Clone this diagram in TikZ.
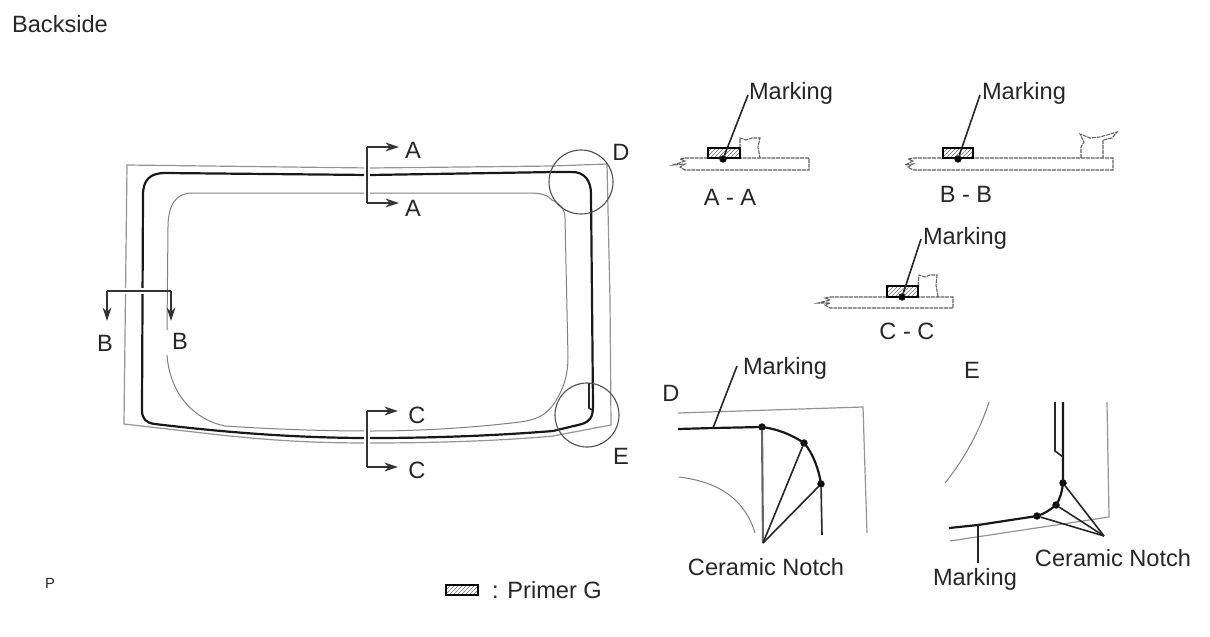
\documentclass[tikz,border=0pt]{standalone}
\usepackage{fontspec}
\setmainfont{Liberation Sans}
\usetikzlibrary{arrows.meta,patterns}
\tikzset{every picture/.style={line width=0.75pt}}
\tikzset{
  lbl/.style={font=\fontsize{17.7}{19}\selectfont,text=black!85,inner sep=0pt},
  thinln/.style={draw=black!50,line width=0.75pt},
  paleln/.style={draw=black!42,line width=0.9pt},
  heavyln/.style={draw=black!90,line width=1.65pt},
  medln/.style={draw=black!85,line width=1.2pt},
  partln/.style={draw=black!62,line width=0.8pt,dash pattern={on 3pt off 0.6pt}},
  sectln/.style={draw=black!80,line width=1.15pt,-{Stealth[length=10pt,width=6.5pt]}},
  primer/.style={draw=black,line width=1.2pt,pattern=north east lines,pattern color=black!55},
  markdot/.style={circle,fill=black,draw=black!90,inner sep=0pt,minimum size=4.8pt},
  ringln/.style={draw=black!68,line width=0.85pt}
}
\begin{document}
\begin{tikzpicture}[x=0.75pt,y=0.75pt,yscale=-1,xscale=1]
\useasboundingbox (0,0) rectangle (1210,636);

%Outer outline of the glass
\draw [paleln] (127,165) -- (370,168) -- (553,166) -- (607,164) -- (610,300) -- (611,425) -- (553,436) .. controls (500,441) and (430,443) .. (370,443) .. controls (300,443) and (260,439) .. (220,435) -- (124,424) -- cycle ;
%Inner ceramic line
\draw [thinln] (167,330) -- (168,227) .. controls (168,205) and (176,193) .. (192,193) -- (370,193) -- (530,193) .. controls (540,193) and (548,195) .. (552,200) .. controls (561,204) and (565,210) .. (565,218) -- (568,357) .. controls (568,378) and (562,392) .. (553,405) .. controls (545,416) and (535,420) .. (520,422) .. controls (470,428) and (420,431) .. (370,431) .. controls (320,431) and (270,429) .. (225,426) .. controls (195,420) and (170,395) .. (167,355) ;
%Marking line
\draw [heavyln,line join=round] (143,195) .. controls (143,180) and (150,173) .. (165,173) -- (370,175) -- (555,172) -- (572,172) .. controls (584,172) and (591,180) .. (591,194) -- (593,405) .. controls (593,418) and (590,421) .. (582,424) -- (553,431) .. controls (490,436) and (430,438) .. (370,438) .. controls (300,438) and (230,433) .. (155,424) .. controls (146,423) and (142,419) .. (142,410) -- cycle ;
\draw [medln] (589,383) -- (589,408) -- (592,410) ;

%Cuts through the lines at the section marks
\draw [white,line width=4.5pt] (367,160) -- (367,200) ;
\draw [white,line width=4.5pt] (367,425) -- (367,450) ;
\draw [white,line width=4.5pt] (115,291) -- (165,291) ;

% Text Node
\draw (60,24) node (backside) [lbl] {Backside};
% Text Node
\draw (413,150) node (lblAa) [lbl] {A};
\draw (413,208) node (lblAb) [lbl] {A};
\draw (105,343) node (lblBa) [lbl] {B};
\draw (180,341) node (lblBb) [lbl] {B};
\draw (417,415) node (lblCa) [lbl] {C};
\draw (417,470) node (lblCb) [lbl] {C};
\draw (621,152) node (lblD) [lbl] {D};
\draw (621,456) node (lblE) [lbl] {E};

%Section marks
\coordinate (cutAa) at (367,147);
\coordinate (cutAb) at (367,203);
\coordinate (cutCa) at (367,411);
\coordinate (cutCb) at (367,467);
\coordinate (cutBa) at (107,291);
\coordinate (cutBb) at (171,291);
\draw [sectln,-] (cutAa) -- (cutAb) ;
\draw [sectln,-] (cutCa) -- (cutCb) ;
\draw [sectln,-] (cutBa) -- (cutBb) ;
\draw [sectln] (cutAa) -- (399,147) ;
\draw [sectln] (cutAb) -- (399,203) ;
\draw [sectln] (cutCa) -- (398,411) ;
\draw [sectln] (cutCb) -- (398,467) ;
\draw [sectln] (cutBa) -- (107,321) ;
\draw [sectln] (cutBb) -- (171,321) ;

%Detail circles
\draw [ringln] (581,182) circle [radius=32] ;
\draw [ringln] (587,415) circle [radius=32] ;

%Section A - A
\draw [partln] (685,158) -- (809,158) -- (809,170) -- (685,170) -- (680,167) -- (685,164) -- (673,165) -- (685,161) -- (680,159) -- cycle ;
\draw [partln] (740,148) -- (740,138) -- (746,140) -- (752,138) -- (760,138) -- (758,147) -- (760,158) ;
\draw [primer] (708,148) rectangle (740,158) ;
\draw (723,159) node (dotA) [markdot] {};
\draw (791,93) node (markA) [lbl] {Marking};
\coordinate (tipA) at (748,95);
\draw [medln] (tipA) -- (dotA) ;
\draw (730,197) node (nameA) [lbl] {A - A};

%Section B - B
\draw [partln] (913,158) -- (1113,158) -- (1113,170) -- (913,170) -- (908,167) -- (913,164) -- (905,165) -- (913,161) -- (908,159) -- cycle ;
\draw [partln] (1081,158) -- (1081,147) -- (1084,142) -- (1080,134) -- (1090,138) -- (1100,137) -- (1117,132) -- (1112,138) -- (1103,140) -- (1103,158) ;
\draw [primer] (943,148) rectangle (973,158) ;
\draw (958,159) node (dotB) [markdot] {};
\draw (1024,93) node (markB) [lbl] {Marking};
\coordinate (tipB) at (980,95);
\draw [medln] (tipB) -- (dotB) ;
\draw (966,194) node (nameB) [lbl] {B - B};

%Section C - C
\draw [partln] (830,297) -- (953,297) -- (953,308) -- (830,308) -- (825,305) -- (830,303) -- (818,303) -- (830,300) -- (825,298) -- cycle ;
\draw [partln] (918,286) -- (919,275) -- (925,277) -- (930,275) -- (937,275) -- (936,285) -- (938,297) ;
\draw [primer] (887,286) rectangle (918,297) ;
\draw (902,297) node (dotC) [markdot] {};
\draw (965,238) node (markC) [lbl] {Marking};
\coordinate (tipC) at (921,239);
\draw [medln] (tipC) -- (dotC) ;
\draw (907,331) node (nameC) [lbl] {C - C};

%Detail D
\draw (671,393) node (nameD) [lbl] {D};
\draw [paleln] (678,413) -- (863,407) -- (867,533) ;
\draw [thinln] (679,477) .. controls (720,482) and (745,500) .. (755,533) ;
\draw (762,427) node (dotDa) [markdot] {};
\draw (804,443) node (dotDb) [markdot] {};
\draw (821,484) node (dotDc) [markdot] {};
\coordinate (apexD) at (763,543);
\coordinate (tailD) at (713,428);
\coordinate (tipD) at (737,366);
\draw [heavyln] (678,429) -- (tailD) -- (dotDa.center) .. controls (778,429) and (792,435) .. (dotDb.center) .. controls (813,453) and (819,470) .. (dotDc.center) ;
\draw [medln] (dotDc) -- (822,535) ;
\draw [draw=black!60,line width=1.6pt] (dotDa) -- (apexD) ;
\draw [medln] (dotDb) -- (apexD) ;
\draw [medln] (dotDc) -- (apexD) ;
\draw (785,368) node (markD) [lbl] {Marking};
\draw [medln] (tipD) -- (tailD) ;
\draw (766,567) node (notchD) [lbl] {Ceramic Notch};

%Detail E
\draw (972,370) node (nameE) [lbl] {E};
\draw [thinln] (989,402) .. controls (980,430) and (965,458) .. (945,483) ;
\draw [paleln] (1107,402) -- (1109,517) -- (950,541) ;
\draw (1063,483) node (dotEa) [markdot] {};
\draw (1056,505) node (dotEb) [markdot] {};
\draw (1037,516) node (dotEc) [markdot] {};
\coordinate (apexE) at (1104,536);
\coordinate (tailE) at (978,525);
\coordinate (tipE) at (978,563);
\draw [heavyln] (1063,402) -- (dotEa.center) .. controls (1062,492) and (1060,499) .. (dotEb.center) .. controls (1050,510) and (1044,514) .. (dotEc.center) -- (tailE) -- (949,528) ;
\draw [medln] (1055,402) -- (1055,451) -- (1063,457) ;
\draw [medln] (dotEa) -- (apexE) ;
\draw [medln] (dotEb) -- (apexE) ;
\draw [medln] (dotEc) -- (apexE) ;
\draw (975,579) node (markE) [lbl] {Marking};
\draw [medln] (tailE) -- (tipE) ;
\draw (1113,558) node (notchE) [lbl] {Ceramic Notch};

% Text Node
\draw (50,583) node (lblP) [lbl,font=\fontsize{11}{12}\selectfont] {P};
\draw [primer] (446,585) rectangle (478,595) ;
\draw (547,590) node (primerG) [lbl] {: Primer G};

\end{tikzpicture}
\end{document}
